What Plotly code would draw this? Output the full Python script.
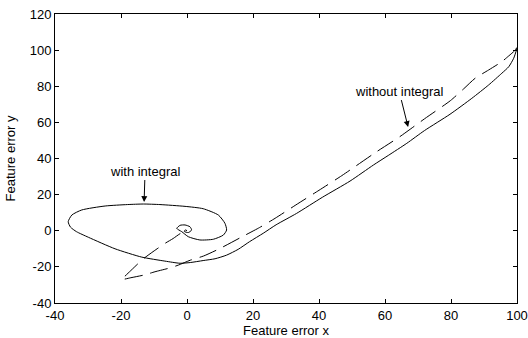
import plotly.graph_objects as go

# Feature-error trajectory with the integral term (solid)
with_x = [100, 99, 97.5, 95.4, 91.4, 86.3, 79.7, 72, 66.6, 61, 56.5, 49.4, 41, 33.2, 27,
          23.1, 19, 15.5, 12, 8.5, 4.9, 1, -2.1, -6.7, -13.7, -21.8, -29.9, -33.5, -35.3,
          -36, -34.9, -31.9, -24.8, -18, -13.2, -8.2, -0.6, 4.9, 9.5, 11.5, 12, 11, 8, 3.9,
          0.4, -1.6, -3.1, -2.1, -0.6, 0.9, 1.4, 0.4, -0.8, -0.5, 0]
with_y = [101, 95.5, 90.8, 87.2, 80.7, 73.3, 64.5, 55.5, 48.4, 41.7, 36.4, 27.5, 18.5, 9.6, 3.3,
          -1.4, -6, -10.3, -13.5, -15.5, -16.5, -17.6, -18, -16.8, -14.6, -10, -3.6, -0.5, 2,
          5, 8.7, 11.5, 13.7, 14.5, 14.8, 14.5, 13.5, 12.2, 8.7, 4.1, 0.4, -2.4, -4.7, -5.1,
          -3.3, -0.5, 1.3, 3.0, 3.2, 2.2, 0.4, -1.0, -0.4, 0.5, 0]

# Feature-error trajectory without the integral term (dashed)
without_x = [100, 99.3, 97.5, 95.4, 91.4, 87.3, 83.8, 79.8, 72, 64.5, 57.5, 50.9, 46.9, 40, 33,
             26.7, 22, 16, 10, 5, 1, -2.6, -5, -9.7, -13, -17, -19.8, -19, -17, -15, -13, -10,
             -6.5, -4.2, -2, 0]
without_y = [101.5, 99.7, 96.8, 93.6, 89, 84.4, 78.5, 72, 62, 52.1, 43.8, 35.5, 30.5, 22.4, 14.3,
             6.9, 1.8, -4, -9.8, -14, -16.3, -19, -20.5, -22.7, -24.5, -26, -27, -25.5, -22, -18.5,
             -15.2, -11.2, -6.8, -4.3, -1.5, 0]

x_ticks = [-40, -20, 0, 20, 40, 60, 80, 100]
y_ticks = [-40, -20, 0, 20, 40, 60, 80, 100, 120]

FONT = "Liberation Sans, Arial, sans-serif"
SIZE = 13

fig = go.Figure()
fig.add_trace(go.Scatter(x=with_x, y=with_y, mode="lines",
                         line=dict(color="black", width=1, shape="spline", smoothing=0.6),
                         showlegend=False))
fig.add_trace(go.Scatter(x=without_x, y=without_y, mode="lines",
                         line=dict(color="black", width=1, dash="18px,8px",
                                   shape="spline", smoothing=0.6),
                         showlegend=False))

fig.add_annotation(x=-13, y=15.9, xref="x", yref="y", text="with integral",
                   showarrow=True, ax=1, ay=-31, arrowhead=2, arrowsize=1.2,
                   arrowwidth=1, arrowcolor="black",
                   font=dict(family=FONT, size=SIZE, color="black"))
fig.add_annotation(x=67, y=57.4, xref="x", yref="y", text="without integral",
                   showarrow=True, ax=-9, ay=-36, arrowhead=2, arrowsize=1.2,
                   arrowwidth=1, arrowcolor="black",
                   font=dict(family=FONT, size=SIZE, color="black"))

axis_common = dict(showline=True, linecolor="black", linewidth=1, mirror="ticks",
                   ticks="inside", ticklen=4, tickcolor="black", showgrid=False,
                   zeroline=False, automargin=False,
                   tickfont=dict(family=FONT, size=SIZE, color="black"))

fig.update_xaxes(range=[-40, 100], tickvals=x_ticks, ticktext=[str(v) for v in x_ticks],
                 title=dict(text="Feature error x", font=dict(family=FONT, size=SIZE, color="black"),
                            standoff=4),
                 **axis_common)
fig.update_yaxes(range=[-40, 120], tickvals=y_ticks, ticktext=[str(v) for v in y_ticks],
                 title=dict(text="Feature error y", font=dict(family=FONT, size=SIZE, color="black"),
                            standoff=11),
                 **axis_common)

fig.update_layout(width=528, height=338, margin=dict(l=55, r=11, t=14, b=35),
                  plot_bgcolor="white", paper_bgcolor="white",
                  font=dict(family=FONT, size=SIZE, color="black"))

fig.write_html("out.html")
